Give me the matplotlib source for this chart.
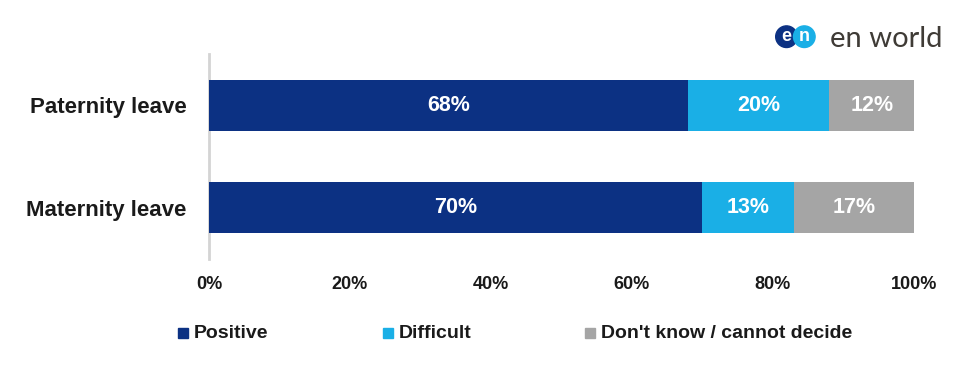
import matplotlib.pyplot as plt
from matplotlib.patches import Circle, Rectangle

# data
categories = ["Maternity leave", "Paternity leave"]
positive = [70, 68]
difficult = [13, 20]
dont_know = [17, 12]
series_names = ["Positive", "Difficult", "Don't know / cannot decide"]
colors = ["#0c3183", "#1aafe6", "#a5a5a5"]
ticks = [0, 20, 40, 60, 80, 100]

plt.rcParams['font.family'] = ['Liberation Sans', 'DejaVu Sans']

fig = plt.figure(figsize=(9.78, 3.7), dpi=100)
ax = fig.add_axes([209/978, 1-259/370, (914-209)/978, 205/370])

left = [0, 0]
for vals, col in zip([positive, difficult, dont_know], colors):
    ax.barh(range(len(categories)), vals, left=left, height=0.5, color=col)
    for i, v in enumerate(vals):
        ax.text(left[i] + v/2, i, f"{v}%", ha="center", va="center",
                color="white", fontsize=15.5, fontweight="bold")
    left = [l + v for l, v in zip(left, vals)]

ax.set_xlim(0, 100)
ax.set_ylim(-0.5, 1.5)
ax.set_yticks(range(len(categories)))
ax.set_yticklabels(categories, fontsize=16, fontweight="bold", color="#1a1a1a")
ax.set_xticks(ticks)
ax.set_xticklabels([f"{t}%" for t in ticks], fontsize=13, fontweight="bold", color="#1a1a1a")
ax.tick_params(length=0)
ax.tick_params(axis="y", pad=16)
ax.tick_params(axis="x", pad=12.5)
for s in ["top", "right", "bottom"]:
    ax.spines[s].set_visible(False)
ax.spines["left"].set_color("#d4d4d4")
ax.spines["left"].set_linewidth(2)
ax.spines["left"].set_zorder(0)

# overlay in pixel coordinates for legend and logo
ov = fig.add_axes([0, 0, 1, 1])
ov.set_xlim(0, 978)
ov.set_ylim(370, 0)
ov.axis("off")

leg_x = [178, 383, 585]
for x, name, col in zip(leg_x, series_names, colors):
    ov.add_patch(Rectangle((x, 327.5), 10, 10, color=col))
    ov.text(x + 16, 338, name, fontsize=14, fontweight="bold",
            color="#1a1a1a", va="baseline", ha="left")

# logo
ov.add_patch(Circle((786.5, 36.7), 10.8, color="#0c3183"))
ov.add_patch(Circle((804.3, 36.7), 10.8, color="#1aafe6"))
ov.text(786.5, 36.2, "e", color="white", fontsize=13, fontweight="bold",
        ha="center", va="center")
ov.text(804.3, 36.2, "n", color="white", fontsize=13, fontweight="bold",
        ha="center", va="center")
ov.text(830, 47, "en world", color="#3f3b36", fontsize=21,
        family="Lato", fontweight="normal", ha="left", va="baseline")

fig.savefig("out.png", dpi=100)
